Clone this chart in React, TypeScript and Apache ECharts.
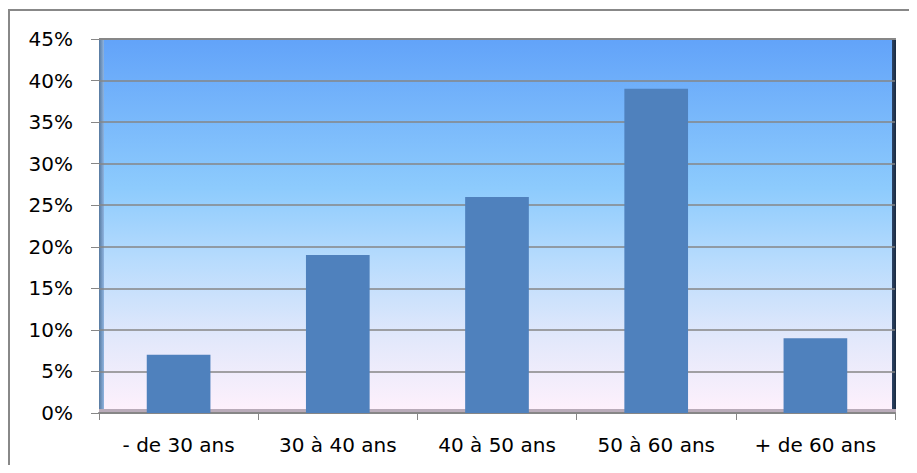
import React, { useEffect, useRef } from "react";
import * as echarts from "echarts";

const categories = ["- de 30 ans", "30 à 40 ans", "40 à 50 ans", "50 à 60 ans", "+ de 60 ans"];
const shares = [0.07, 0.19, 0.26, 0.39, 0.09];
const yMin = 0;
const yMax = 0.45;
const yStep = 0.05;

const FONT = "'DejaVu Sans', 'Noto Sans', sans-serif";

export default function App() {
  const ref = useRef<HTMLDivElement>(null);

  useEffect(() => {
    if (!ref.current) return;
    const chart = echarts.init(ref.current, undefined, { renderer: "svg" });
    chart.setOption({
      animation: false,
      backgroundColor: "#ffffff",
      grid: {
        left: 99,
        right: 22,
        top: 39,
        bottom: 60,
        show: true,
        borderWidth: 0,
        backgroundColor: new echarts.graphic.LinearGradient(0, 0, 0, 1, [
          { offset: 0, color: "#62a3f9" },
          { offset: 0.4, color: "#8dcbfd" },
          { offset: 0.6, color: "#b9dcfd" },
          { offset: 0.8, color: "#e2e8fb" },
          { offset: 1, color: "#fff1fc" },
        ]),
      },
      graphic: [
        {
          type: "rect",
          shape: { x: 9, y: 10, width: 1000, height: 1000 },
          style: { fill: "none", stroke: "#888888", lineWidth: 2 },
          z: 0,
        },
        {
          type: "rect",
          shape: { x: 99, y: 39, width: 5, height: 374 },
          style: {
            fill: new echarts.graphic.LinearGradient(0, 0, 1, 0, [
              { offset: 0, color: "#56799f" },
              { offset: 1, color: "#8fb4e0" },
            ]),
          },
          z: 1,
        },
        {
          type: "rect",
          shape: { x: 892, y: 39, width: 4, height: 374 },
          style: {
            fill: new echarts.graphic.LinearGradient(0, 0, 1, 0, [
              { offset: 0, color: "#2d4466" },
              { offset: 1, color: "#1a2a40" },
            ]),
          },
          z: 1,
        },
        {
          type: "rect",
          shape: { x: 99, y: 409, width: 797, height: 4 },
          style: { fill: "#b9abb9" },
          z: 1,
        },
        {
          type: "rect",
          shape: { x: 99, y: 38, width: 797, height: 2 },
          style: { fill: "#8a8a8a" },
          z: 1,
        },
      ],
      xAxis: {
        type: "category",
        data: categories,
        boundaryGap: true,
        axisLine: { show: true, lineStyle: { color: "#868686", width: 2 } },
        axisTick: { show: true, alignWithLabel: false, length: 7, lineStyle: { color: "#868686", width: 1 } },
        axisLabel: { color: "#000000", fontSize: 20, fontFamily: FONT, margin: 22 },
        splitLine: { show: false },
        z: 3,
      },
      yAxis: {
        type: "value",
        min: yMin,
        max: yMax,
        interval: yStep,
        axisLine: { show: false },
        axisTick: { show: true, length: 8, lineStyle: { color: "#868686", width: 1 } },
        axisLabel: {
          color: "#000000",
          fontSize: 20,
          fontFamily: FONT,
          margin: 26,
          formatter: (v: number) => `${Math.round(v * 100)}%`,
        },
        splitLine: { show: true, lineStyle: { color: "#868686", width: 1.5 } },
        z: 2,
      },
      series: [
        {
          type: "bar",
          data: shares,
          barWidth: "40%",
          itemStyle: { color: "#4f81bd" },
          z: 4,
        },
      ],
    });
    return () => chart.dispose();
  }, []);

  return <div ref={ref} style={{ width: 917, height: 473, margin: -8 }} />;
}
